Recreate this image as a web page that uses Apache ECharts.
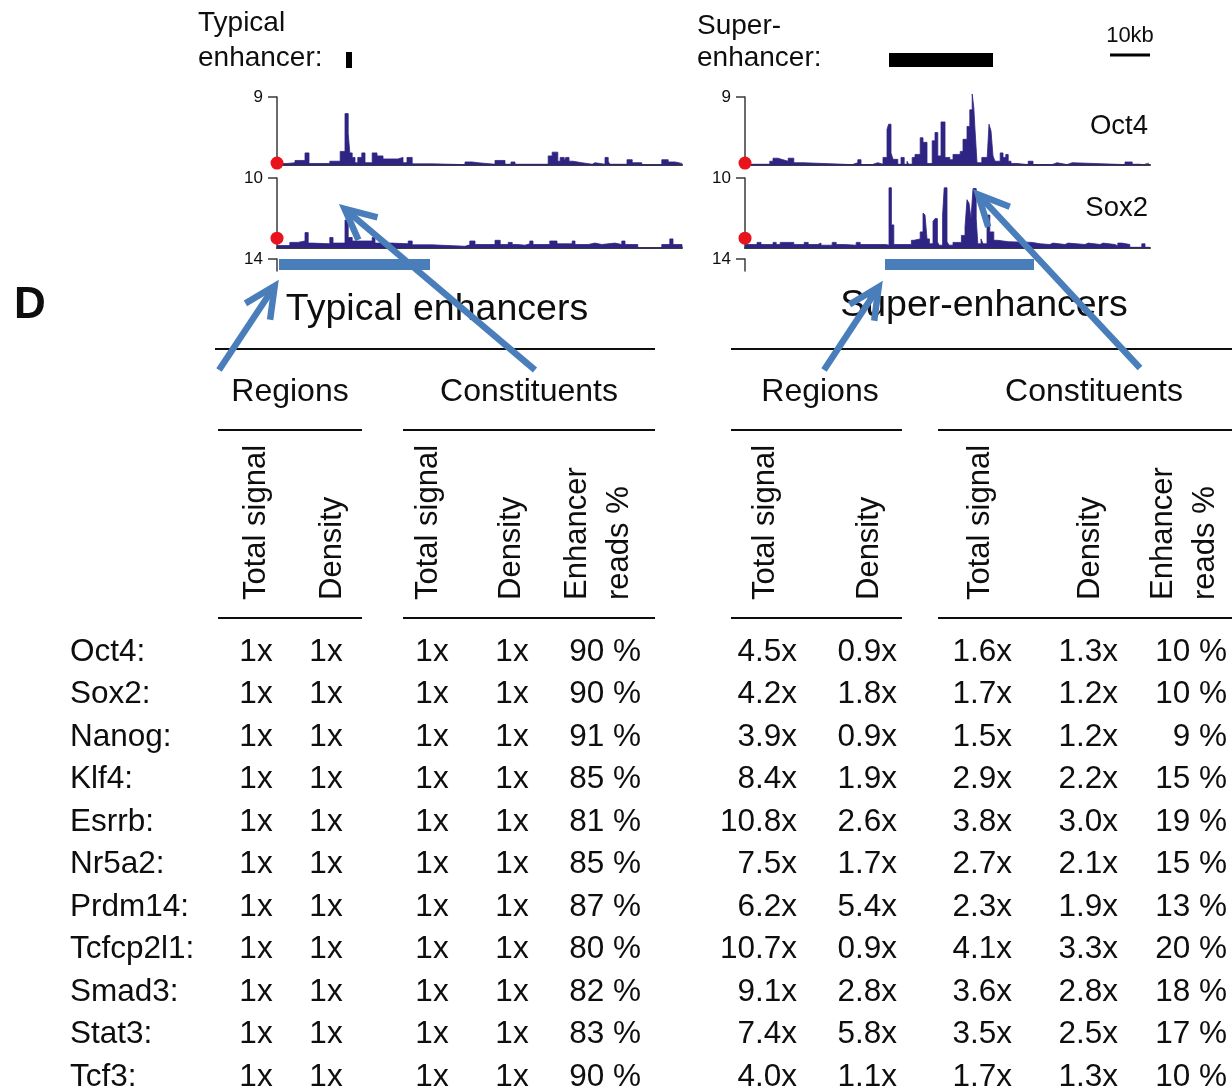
<!DOCTYPE html>
<html>
<head>
<meta charset="utf-8">
<script src="https://cdn.jsdelivr.net/npm/echarts@6/dist/echarts.min.js"></script>
<style>
  html, body { margin: 0; padding: 0; background: #ffffff; }
  #chart { width: 1232px; height: 1090px; }
</style>
</head>
<body>
<div id="chart"></div>
<script>
// ChIP-seq coverage, bedGraph style: [segment start (kb), normalised reads]
const typicalOct4 = [[0,0.2],[2.5,0.3],[4.5,0.6],[7,1.6],[8,0.2],[13.2,0.5],[15.8,1.8],[17,6.8],[17.8,4.2],[18.2,1.6],[18.8,1.0],[19.5,0.3],[20.2,1.0],[21.2,1.6],[22,0.3],[23.8,1.6],[25,1.2],[26.5,0.8],[30.2,1.0],[31.5,0.3],[32.5,1.0],[33.8,0.15],[38.8,0.05],[47,0.4],[48.8,0.3],[50.2,0.1],[54.5,0.6],[57,0.1],[58.5,0.4],[59.5,0.1],[67.8,1.2],[68.8,1.7],[70.2,0.5],[70.8,1.0],[71.8,0.5],[72.2,1.0],[73,0.5],[74,0.3],[76.2,0.1],[78.8,0.3],[79.5,0.1],[82,1.0],[82.8,0.5],[83.2,0.1],[87.5,0.7],[88.8,0.3],[91.2,0],[96.2,0.7],[97.8,0.4],[99.5,0.2],[101.25,0]];
const typicalSox2 = [[0,0.35],[3.2,0.8],[5.2,1.0],[7,2.2],[7.8,0.7],[8.8,0.6],[13.2,1.5],[14,0.7],[17,4.0],[17.8,1.5],[18.8,1.0],[23.8,1.5],[24.5,0.7],[28.8,0.6],[32.8,1.0],[33.8,0.45],[38.8,0.25],[47,0.45],[48.2,1.0],[49.5,0.5],[54.5,1.1],[55.8,0.5],[57.8,0.8],[58.8,0.5],[60.2,0.4],[62,0.6],[63.2,1.0],[64,0.5],[68.2,1.0],[70,0.6],[73.8,1.0],[74.5,0.5],[77.8,0.7],[79.5,0.5],[81.2,0.7],[84.5,0.5],[86.2,1.0],[87,0.5],[90.2,0],[96.2,0.5],[98.2,1.3],[99,0.5],[101.25,0]];
const superOct4 = [[0,0.1],[6.2,0.5],[7,0.9],[8.2,0.7],[9.5,0.5],[10.8,0.9],[12.2,0.3],[14.5,0.05],[26.8,0.3],[28.2,0.7],[29,0.05],[31.8,0.3],[33.2,0.1],[34.5,1.0],[35.5,4.7],[35.9,5.4],[36.5,1.6],[37,0.75],[38.2,0.1],[39,1.0],[39.8,0.1],[40.5,0.5],[40.9,0.1],[41.8,1.0],[42.5,1.4],[43.8,3.6],[44.5,3.0],[45.5,0.2],[46.8,3.2],[47.5,4.3],[48.2,1.2],[49,5.7],[50,1.0],[51.2,0.7],[52,1.4],[53.8,1.8],[54.5,3.4],[55.5,5.1],[56.2,7.3],[56.8,9.4],[57.2,7.6],[57.5,4.7],[58,0.3],[59.2,1.0],[60.5,0.5],[61,5.4],[61.5,4.5],[62,1.2],[62.5,0.5],[63.8,1.6],[64.5,1.0],[65.2,1.4],[65.8,0.5],[66.5,0.2],[68,0.05],[70.8,0.5],[72,0.05],[76.8,0.3],[78,0.05],[80.5,0.3],[81.8,0.05],[95,0.4],[96.8,0.1],[98.8,0],[99.5,0.25],[100.8,0],[101.25,0]];
const superSox2 = [[0,0.5],[3,0.8],[4,0.5],[7,0.8],[7.8,0.5],[8.8,0.8],[12.2,0.5],[14.8,0.8],[15.8,0.5],[18.2,0.7],[19,0.4],[21.8,0.8],[22.8,0.5],[24.8,0.7],[25.2,0.4],[27.8,0.8],[28.8,0.5],[35.2,0.4],[36,8.6],[36.6,3.3],[37.2,0.5],[41.6,1.1],[42.2,1.3],[43.8,2.3],[44.5,5.0],[45,4.7],[45.5,1.3],[46.1,0.6],[47,3.8],[47.5,4.2],[48.1,0.9],[48.5,0.4],[49.4,4.7],[49.8,8.6],[50.5,0.9],[51,0.4],[52,0.8],[54.1,1.8],[55,3.0],[55.5,6.9],[56,6.4],[56.5,4.2],[57,8.5],[57.8,4.2],[58.2,0.6],[59,1.3],[59.5,0.6],[60.5,4.7],[61.2,2.3],[62.2,1.1],[63.2,0.9],[65.8,0.8],[71.8,0.6],[73.8,0.5],[76.2,0.7],[77,0.5],[80,0.7],[80.8,0.5],[85,0.7],[85.8,0.5],[88.8,0.7],[89.5,0.5],[92.5,0.3],[93.2,0.7],[94.2,0.5],[96.2,0.1],[99.2,0.6],[100,0.1],[101.25,0]];

// Track scales and the value marked by the dot at the left of each track
const trackMax = [9, 10];          // Oct4, Sox2
const nextTrackMax = 14;
const trackNames = ['Oct4', 'Sox2'];
const baselineDot = [0.25, 1.4];   // Oct4, Sox2

// Annotated intervals (kb)
const typicalEnhancerKb = [17.25, 18.75];
const superEnhancerKb = [36, 62];
const typicalHighlightKb = [0.5, 38.25];
const superHighlightKb = [35, 72.25];
const scaleBarKb = 10;
const SPAN_KB = 101.25;

// Table
const genes = ['Oct4:', 'Sox2:', 'Nanog:', 'Klf4:', 'Esrrb:', 'Nr5a2:', 'Prdm14:', 'Tcfcp2l1:', 'Smad3:', 'Stat3:', 'Tcf3:'];
const teRegionSignal  = [1, 1, 1, 1, 1, 1, 1, 1, 1, 1, 1];
const teRegionDensity = [1, 1, 1, 1, 1, 1, 1, 1, 1, 1, 1];
const teConstSignal   = [1, 1, 1, 1, 1, 1, 1, 1, 1, 1, 1];
const teConstDensity  = [1, 1, 1, 1, 1, 1, 1, 1, 1, 1, 1];
const teReadsPct      = [90, 90, 91, 85, 81, 85, 87, 80, 82, 83, 90];
const seRegionSignal  = [4.5, 4.2, 3.9, 8.4, 10.8, 7.5, 6.2, 10.7, 9.1, 7.4, 4.0];
const seRegionDensity = [0.9, 1.8, 0.9, 1.9, 2.6, 1.7, 5.4, 0.9, 2.8, 5.8, 1.1];
const seConstSignal   = [1.6, 1.7, 1.5, 2.9, 3.8, 2.7, 2.3, 4.1, 3.6, 3.5, 1.7];
const seConstDensity  = [1.3, 1.2, 1.2, 2.2, 3.0, 2.1, 1.9, 3.3, 2.8, 2.5, 1.3];
const seReadsPct      = [10, 10, 9, 15, 19, 15, 13, 20, 18, 17, 10];

const groupTitles = ['Typical enhancers', 'Super-enhancers'];
const subTitles = ['Regions', 'Constituents'];
const metricTitles = ['Total signal', 'Density', 'Total signal', 'Density', 'Enhancer\nreads %'];
const enhancerLabels = [['Typical', 'enhancer:'], ['Super-', 'enhancer:']];
const panelLetter = 'D';

// ---------------------------------------------------------------------------
const FONT = '"Liberation Sans", Arial, Helvetica, sans-serif';
const INK = '#0e0e0e';
const AXIS = '#3a3a3a';
const FILL = '#2e2483';
const DOT = '#e8131b';
const NOTE = '#4a7ebb';
const TRACK_W = 405;

const grids = [], xAxes = [], yAxes = [], series = [];
function addGrid(rect, x, y) {
  grids.push(rect);
  const i = grids.length - 1;
  xAxes.push(Object.assign({ gridIndex: i }, x));
  yAxes.push(Object.assign({ gridIndex: i }, y));
  return i;
}
const hiddenValue = (min, max, extra) => Object.assign({ type: 'value', min, max, show: false }, extra || {});

function trackPanel(left, top, height, maxVal, data, dotVal) {
  const i = addGrid({ left, top, width: TRACK_W, height },
    { type: 'value', min: 0, max: SPAN_KB,
      axisLine: { show: true, onZero: true, lineStyle: { color: AXIS, width: 2 } },
      axisTick: { show: false }, axisLabel: { show: false }, splitLine: { show: false } },
    { type: 'value', min: 0, max: maxVal,
      axisLine: { show: true, lineStyle: { color: AXIS, width: 1.5 } },
      axisTick: { show: true, customValues: [maxVal], length: 9, lineStyle: { color: AXIS, width: 1.5 } },
      axisLabel: { show: true, customValues: [maxVal], margin: 14, fontSize: 17, color: INK, fontFamily: FONT },
      splitLine: { show: false } });
  series.push({ type: 'line', xAxisIndex: i, yAxisIndex: i, data, step: 'end',
    showSymbol: false, symbol: 'none', clip: false, silent: true,
    lineStyle: { color: FILL, width: 0.8 }, areaStyle: { color: FILL, opacity: 1 } });
  series.push({ type: 'scatter', xAxisIndex: i, yAxisIndex: i, data: [[0, dotVal]],
    symbolSize: 13, clip: false, silent: true, z: 6, itemStyle: { color: DOT, opacity: 1 } });
}

function stubPanel(left, highlight) {
  const i = addGrid({ left, top: 259, width: TRACK_W, height: 12 },
    hiddenValue(0, SPAN_KB),
    { type: 'value', min: 0, max: nextTrackMax,
      axisLine: { show: true, lineStyle: { color: AXIS, width: 1.5 } },
      axisTick: { show: true, customValues: [nextTrackMax], length: 9, lineStyle: { color: AXIS, width: 1.5 } },
      axisLabel: { show: true, customValues: [nextTrackMax], margin: 14, fontSize: 17, color: INK, fontFamily: FONT },
      splitLine: { show: false } });
  series.push({ type: 'line', xAxisIndex: i, yAxisIndex: i, clip: false, silent: true, symbol: 'none', z: 4,
    data: [[highlight[0], 7.5], [highlight[1], 7.5]], lineStyle: { color: NOTE, width: 11, cap: 'butt' } });
}

function enhancerPanel(left, span, barWidth, withScale) {
  const i = addGrid({ left, top: 45, width: TRACK_W, height: 30 },
    hiddenValue(0, SPAN_KB), hiddenValue(0, 30, { inverse: true }));
  series.push({ type: 'line', xAxisIndex: i, yAxisIndex: i, clip: false, silent: true, symbol: 'none',
    data: [[span[0], 15], [span[1], 15]], lineStyle: { color: '#000', width: barWidth, cap: 'butt' } });
  if (withScale) {
    series.push({ type: 'line', xAxisIndex: i, yAxisIndex: i, clip: false, silent: true, symbol: 'none',
      data: [[SPAN_KB - scaleBarKb, 10], [SPAN_KB, 10]], lineStyle: { color: '#000', width: 3, cap: 'butt' } });
  }
}

// Genome browser panels
trackPanel(277, 97, 68, trackMax[0], typicalOct4, baselineDot[0]);
trackPanel(277, 178, 70, trackMax[1], typicalSox2, baselineDot[1]);
trackPanel(745, 97, 68, trackMax[0], superOct4, baselineDot[0]);
trackPanel(745, 178, 70, trackMax[1], superSox2, baselineDot[1]);
stubPanel(277, typicalHighlightKb);
stubPanel(745, superHighlightKb);
enhancerPanel(277, typicalEnhancerKb, 16, false);
enhancerPanel(745, superEnhancerKb, 14, true);

// Table columns: one narrow grid per column, rows on a category axis
const ROW_TOP = 652, ROW_SPAN = 425;
function tableColumn(x, align, texts) {
  const w = 4;
  const i = addGrid({ left: x - w / 2, top: ROW_TOP, width: w, height: ROW_SPAN },
    { type: 'category', data: ['v'], show: false },
    { type: 'category', data: genes, inverse: true, boundaryGap: false, show: false });
  series.push({ type: 'scatter', xAxisIndex: i, yAxisIndex: i, silent: true, clip: false,
    data: texts.map((t, r) => [0, r]), symbolSize: 0, itemStyle: { color: 'transparent', opacity: 1 },
    label: { show: true, position: 'inside', align, verticalAlign: 'middle', opacity: 1,
      textBorderWidth: 0, formatter: p => texts[p.dataIndex], fontSize: 31.5, color: INK, fontFamily: FONT } });
}
const fx = a => a.map(v => v + 'x');
const fx1 = a => a.map(v => v.toFixed(1) + 'x');
const pct = a => a.map(v => v + ' %');
tableColumn(70, 'left', genes);
tableColumn(256, 'center', fx(teRegionSignal));
tableColumn(326, 'center', fx(teRegionDensity));
tableColumn(432, 'center', fx(teConstSignal));
tableColumn(512, 'center', fx(teConstDensity));
tableColumn(641, 'right', pct(teReadsPct));
tableColumn(797, 'right', fx1(seRegionSignal));
tableColumn(897, 'right', fx1(seRegionDensity));
tableColumn(1012, 'right', fx1(seConstSignal));
tableColumn(1118, 'right', fx1(seConstDensity));
tableColumn(1227, 'right', pct(seReadsPct));

// ---------------------------------------------------------------------------
// Static text, table rules and call-out arrows
const graphics = [];
function txt(text, x, y, size, align, opts) {
  graphics.push(Object.assign({ type: 'text', x, y, z: 10, silent: true,
    style: Object.assign({ text, fontSize: size, fontFamily: FONT, fill: INK, align, verticalAlign: 'middle' },
      (opts && opts.style) || {}) }, (opts && opts.el) || {}));
}
function rule(x1, x2, y) {
  graphics.push({ type: 'line', z: 10, silent: true, shape: { x1, y1: y, x2, y2: y },
    style: { stroke: INK, lineWidth: 2 } });
}
function vtxt(text, x) {
  txt(text, x, 600, 31, 'left', { el: { rotation: Math.PI / 2 }, style: { lineHeight: 42 } });
}
function arrow(x1, y1, x2, y2) {
  const back = Math.atan2(y1 - y2, x1 - x2);
  const L = 34, a = 0.45, inset = 6;
  const tx = x2 + inset * Math.cos(back), ty = y2 + inset * Math.sin(back);
  const p1 = [tx + L * Math.cos(back + a), ty + L * Math.sin(back + a)];
  const p2 = [tx + L * Math.cos(back - a), ty + L * Math.sin(back - a)];
  graphics.push({ type: 'line', z: 50, silent: true, shape: { x1, y1, x2: tx, y2: ty },
    style: { stroke: NOTE, lineWidth: 6.5 } });
  graphics.push({ type: 'polyline', z: 50, silent: true, shape: { points: [p1, [tx, ty], p2] },
    style: { stroke: NOTE, lineWidth: 6.5, fill: null, lineJoin: 'miter', miterLimit: 10 } });
}

// Browser labels
txt(enhancerLabels[0][0], 198, 23, 28, 'left');
txt(enhancerLabels[0][1], 198, 58, 28, 'left');
txt(enhancerLabels[1][0], 697, 26, 28, 'left');
txt(enhancerLabels[1][1], 697, 58, 28, 'left');
txt(scaleBarKb + 'kb', 1130, 36, 22, 'center');
txt(trackNames[0], 1148, 126, 27.5, 'right');
txt(trackNames[1], 1148, 208, 27.5, 'right');

// Table header
txt(panelLetter, 30, 306, 44, 'center', { style: { fontWeight: 'bold' } });
txt(groupTitles[0], 437, 310, 37.5, 'center');
txt(groupTitles[1], 984, 306, 37.5, 'center');
rule(215, 655, 349);
rule(731, 1232, 349);
txt(subTitles[0], 290, 392, 32, 'center');
txt(subTitles[1], 529, 392, 32, 'center');
txt(subTitles[0], 820, 392, 32, 'center');
txt(subTitles[1], 1094, 392, 32, 'center');
rule(218, 362, 430);
rule(403, 655, 430);
rule(731, 902, 430);
rule(938, 1232, 430);
[256, 332, 428, 511, 598].forEach((x, k) => vtxt(metricTitles[k], x));
[765, 869, 980, 1090, 1184].forEach((x, k) => vtxt(metricTitles[k], x));
rule(218, 362, 618);
rule(403, 655, 618);
rule(731, 902, 618);
rule(938, 1232, 618);

// Call-out arrows linking the table to the browser view
arrow(219, 370, 278, 281);
arrow(535, 370, 340, 205);
arrow(824, 370, 882, 282);
arrow(1140, 368, 974, 190);

const chart = echarts.init(document.getElementById('chart'), null, { renderer: 'canvas' });
chart.setOption({
  backgroundColor: '#ffffff',
  animation: false,
  grid: grids,
  xAxis: xAxes,
  yAxis: yAxes,
  series,
  graphic: { elements: graphics }
});
</script>
</body>
</html>
